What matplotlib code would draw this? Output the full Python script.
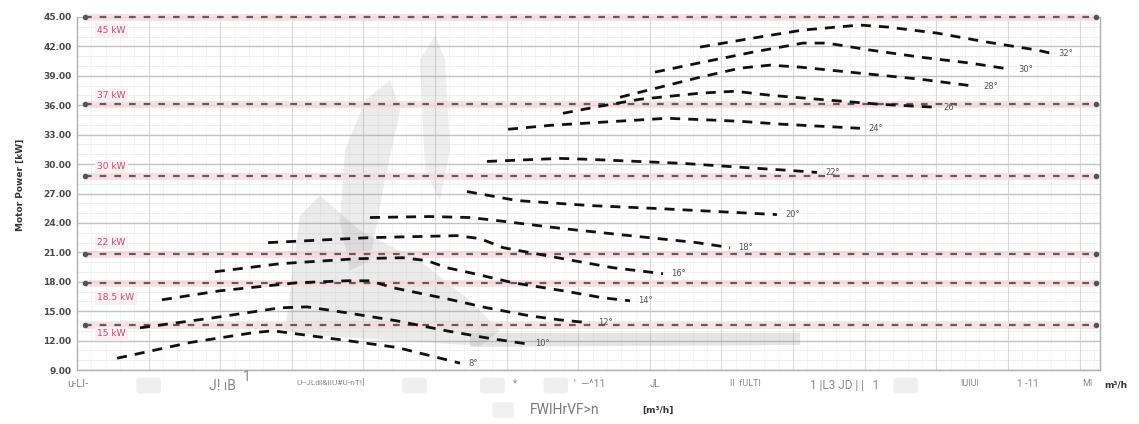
import numpy as np
import matplotlib
matplotlib.use("Agg")
import matplotlib.pyplot as plt
from matplotlib.patches import Polygon
import matplotlib.transforms as mtransforms

# ---------------- data ----------------
# y axis ticks
y_ticks = [9, 12, 15, 18, 21, 24, 27, 30, 33, 36, 39, 42, 45]
y_tick_labels = ["%.2f" % v for v in y_ticks]

# motor limit lines (power value, label)
limit_values = [45.0, 36.1, 28.8, 20.8, 17.9, 13.6]
limit_names = ["45 kW", "37 kW", "30 kW", "22 kW", "18.5 kW", "15 kW"]
limit_label_y = [43.67, 37.0, 29.76, 22.0, 16.36, 12.68]

# fan curves (x = flow, y = motor power)
curve_names = ["8°", "10°", "12°", "14°", "16°", "18°", "20°",
               "22°", "24°", "26°", "28°", "30°", "32°"]
cA_x = [1.96, 5.52, 8.60, 9.58, 13.20, 15.64, 18.72]
cA_y = [10.2, 11.8, 12.8, 13.0, 12.0, 11.3, 9.7]
cB_x = [3.08, 6.65, 9.92, 11.24, 13.20, 15.64, 18.08, 20.04, 21.99]
cB_y = [13.30, 14.32, 15.34, 15.44, 14.83, 14.01, 12.99, 12.27, 11.66]
cC_x = [4.15, 6.99, 10.75, 13.20, 14.32, 15.44, 18.08, 20.04, 22.14, 23.61, 25.07]
cC_y = [16.16, 17.08, 17.90, 18.10, 18.10, 17.39, 16.26, 15.34, 14.52, 14.11, 13.81]
cD_x = [6.74, 9.92, 13.69, 15.93, 17.11, 18.08, 19.21, 21.31, 23.75, 25.71, 27.03]
cD_y = [19.02, 19.84, 20.35, 20.45, 20.15, 19.43, 18.92, 17.90, 17.08, 16.36, 16.06]
cE_x = [9.34, 14.32, 18.57, 19.70, 20.82, 23.75, 26.20, 28.64]
cE_y = [21.99, 22.50, 22.70, 22.40, 21.48, 20.35, 19.43, 18.82]
cF_x = [14.32, 17.25, 19.21, 20.53, 23.75, 27.03, 30.30, 31.92]
cF_y = [24.55, 24.65, 24.55, 24.24, 23.42, 22.70, 21.99, 21.48]
cG_x = [19.06, 21.51, 25.07, 28.35, 34.21]
cG_y = [27.20, 26.28, 25.77, 25.47, 24.85]
cH_x = [20.04, 23.61, 25.07, 29.62, 32.55, 34.85, 36.17]
cH_y = [30.27, 30.58, 30.48, 30.07, 29.66, 29.35, 29.15]
cI_x = [21.07, 23.12, 25.56, 28.84, 31.28, 32.41, 34.51, 38.27]
cI_y = [33.55, 33.95, 34.26, 34.67, 34.47, 34.36, 34.06, 33.65]
cJ_x = [23.75, 25.56, 27.52, 30.45, 32.16, 33.87, 36.80, 39.25, 41.94]
cJ_y = [35.18, 35.90, 36.61, 37.23, 37.43, 37.02, 36.51, 36.10, 35.80]
cK_x = [26.54, 28.49, 30.45, 32.40, 33.87, 35.34, 38.27, 41.20, 43.89]
cK_y = [36.82, 37.84, 38.86, 39.78, 40.09, 39.89, 39.27, 38.66, 37.94]
cL_x = [28.25, 30.60, 33.04, 35.48, 36.66, 38.76, 41.20, 43.65, 45.60]
cL_y = [39.38, 40.40, 41.42, 42.34, 42.34, 41.63, 40.91, 40.30, 39.68]
cM_x = [30.45, 33.04, 35.48, 38.27, 39.59, 42.03, 44.48, 46.92, 47.56]
cM_y = [41.93, 42.85, 43.67, 44.18, 43.98, 43.36, 42.44, 41.63, 41.32]

curves_x = [cA_x, cB_x, cC_x, cD_x, cE_x, cF_x, cG_x, cH_x, cI_x, cJ_x, cK_x, cL_x, cM_x]
curves_y = [cA_y, cB_y, cC_y, cD_y, cE_y, cF_y, cG_y, cH_y, cI_y, cJ_y, cK_y, cL_y, cM_y]

# grey operating regions
region1_x = [10.17, 10.90, 11.88, 13.83, 16.76, 19.21, 20.67, 19.70, 15.79, 11.88]
region1_y = [12.99, 24.75, 26.80, 23.22, 20.15, 16.06, 12.99, 11.46, 11.97, 12.48]
region2_x = [13.10, 14.08, 15.30, 15.79, 15.05, 14.32, 13.34, 12.85]
region2_y = [31.40, 36.51, 38.56, 35.49, 28.33, 20.15, 19.13, 24.24]
region3_x = [16.76, 17.50, 17.99, 18.23, 17.74, 17.01]
region3_y = [40.60, 43.16, 40.60, 31.40, 26.28, 29.35]
region4_x = [19.21, 35.34, 35.34, 19.21]
region4_y = [12.78, 12.78, 11.56, 11.35]

# x tick texts (as they appear)
xtick_pos = [0.05, 7.09, 12.37, 21.41, 25.07, 28.25, 32.65, 37.54, 43.65, 46.48, 49.36]
xtick_text = ["u-LI-", "J! ıB", "U--JLdI&IIU#U-nT!]", "*", "'  —^11", "JL",
              "II  fULTI", "1 |L3 JD | |   1", "IUIUI", "1 -11", "MI"]
xtick_size = [8, 10, 6, 7, 7.5, 7, 6.5, 8.5, 6.5, 7, 6.5]

# ---------------- figure ----------------
W, H = 1139, 424
fig = plt.figure(figsize=(W / 100, H / 100), dpi=100)
fig.patch.set_facecolor("white")
ax = fig.add_axes([77 / W, 1 - 370 / H, (1100 - 77) / W, (370 - 17) / H])
ax.set_xlim(0, 50)
ax.set_ylim(9, 45)

# grid
for v in np.arange(9, 45.01, 1):
    ax.axhline(v, color="#ececec", lw=0.6, zorder=0)
for v in y_ticks:
    ax.axhline(v, color="#c4c4c4", lw=1.0, zorder=0.5)
for v in np.arange(0, 50.01, 0.7):
    ax.axvline(v, color="#f0f0f0", lw=0.5, zorder=0)
for v in np.arange(3.5, 50, 3.5):
    ax.axvline(v, color="#d9d9d9", lw=0.8, zorder=0.4)

# grey regions (soft)
for rx, ry, a in [(region1_x, region1_y, 0.17), (region2_x, region2_y, 0.16),
                  (region3_x, region3_y, 0.14), (region4_x, region4_y, 0.22)]:
    ax.add_patch(Polygon(np.column_stack([rx, ry]), closed=True,
                         facecolor="#8c8c8c", edgecolor="none",
                         alpha=a, zorder=1))

# motor limit lines
for v, name, ly in zip(limit_values, limit_names, limit_label_y):
    ax.plot([0.4, 49.8], [v, v], color="#f8d9df", lw=5, alpha=0.8,
            solid_capstyle="butt", zorder=2, clip_on=False)
    ln, = ax.plot([0.4, 49.8], [v, v], color="#5e5e5e", lw=1.6, zorder=3,
                  clip_on=False)
    ln.set_dashes((3, 3.6))
    ax.plot([0.4, 49.8], [v, v], "o", color="#555555", ms=3, zorder=3,
            clip_on=False)
    ax.text(1.0, ly, name, fontsize=6.5, color="#c0506a", va="center",
            ha="left", zorder=4,
            bbox=dict(boxstyle="square,pad=0.25", fc="#fdeef1", ec="none"))

# fan curves
for cx, cy, nm in zip(curves_x, curves_y, curve_names):
    ln, = ax.plot(cx, cy, color="#111111", lw=2.0, zorder=5)
    ln.set_dashes((3.6, 2.9))
    ax.text(cx[-1] + 0.4, cy[-1], nm, fontsize=6, color="#555555",
            va="center", ha="left", zorder=6)

# axes styling
ax.spines["top"].set_visible(False)
for s in ["left", "bottom", "right"]:
    ax.spines[s].set_color("#b0b0b0")
    ax.spines[s].set_linewidth(1.0)
ax.set_yticks(y_ticks)
ax.set_yticklabels(y_tick_labels, fontsize=6.5, fontweight="bold", color="#4a4a4a")
ax.tick_params(axis="y", length=0, pad=4)
ax.set_xticks([])

trans = mtransforms.blended_transform_factory(ax.transData, ax.transAxes)
for xp, tx, fs in zip(xtick_pos, xtick_text, xtick_size):
    ax.text(xp, -0.025, tx, transform=trans, fontsize=fs, color="#8a8a8a",
            ha="center", va="top", family="Roboto", clip_on=False)
ax.text(8.3, 0.0, "1", transform=trans, fontsize=10, color="#8a8a8a",
        ha="center", va="top", family="Roboto", clip_on=False)
ax.text(50.75, -0.03, "m³/h", transform=trans, fontsize=6.5, color="#333333",
        fontweight="bold", ha="center", va="top", clip_on=False)

# faint blurred label patches
for xp in [3.5, 16.5, 20.3, 23.4, 40.5]:
    ax.text(xp, -0.03, "      ", transform=trans, fontsize=7, ha="center",
            va="top", clip_on=False,
            bbox=dict(boxstyle="round,pad=0.3", fc="#efefef", ec="none"))

# x label
fig.text(565 / W, 1 - 410 / H, "FWIHrVF>n", fontsize=10, color="#7a7a7a",
         ha="center", va="center", family="Roboto")
fig.text(658 / W, 1 - 410 / H, "[m³/h]", fontsize=6.5, color="#333333",
         fontweight="bold", ha="center", va="center")
fig.text(503 / W, 1 - 410 / H, "     ", fontsize=7, ha="center", va="center",
         bbox=dict(boxstyle="round,pad=0.3", fc="#f0f0f0", ec="none"))

# y label
fig.text(20 / W, 1 - 185 / H, "Motor Power [kW]", rotation=90, fontsize=6.5,
         fontweight="bold", color="#333333", ha="center", va="center")

fig.savefig("out.png", dpi=100)
